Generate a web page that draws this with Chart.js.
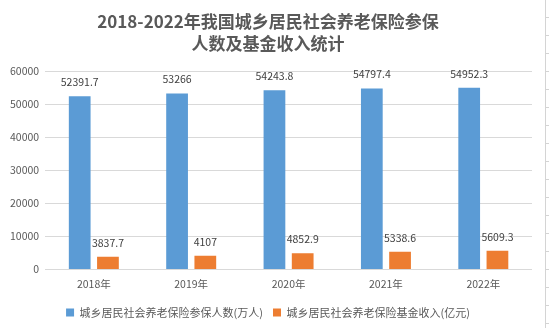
<!DOCTYPE html>
<html lang="zh">
<head>
    <meta charset="UTF-8">
    <title>2018-2022年我国城乡居民社会养老保险参保人数及基金收入统计</title>
    <script src="https://cdn.jsdelivr.net/npm/chart.js@4.4.0/dist/chart.umd.min.js"></script>
    <style>
        html, body {
            margin: 0;
            padding: 0;
            background: #fff;
            width: 549px;
            height: 328px;
            overflow: hidden;
        }
        #wrap {
            position: absolute;
            left: 0;
            top: 0;
            width: 534px;
            height: 328px;
        }
        /* spreadsheet edge visible at the right of the screenshot */
        #sheetEdge {
            position: absolute;
            left: 545px;
            top: 0;
            width: 4px;
            height: 328px;
            border-left: 1px solid #d4d4d4;
            background: repeating-linear-gradient(to bottom, transparent 0, transparent 17px, #d4d4d4 17px, #d4d4d4 18px);
        }
    </style>
</head>
<body>
    <div id="wrap"><canvas id="chart"></canvas></div>
    <div id="sheetEdge"></div>

    <script>
        // values
        const years = ['2018年', '2019年', '2020年', '2021年', '2022年'];
        const insured = [52391.7, 53266, 54243.8, 54797.4, 54952.3];     // 万人
        const fundIncome = [3837.7, 4107, 4852.9, 5338.6, 5609.3];       // 亿元
        const seriesNames = ['城乡居民社会养老保险参保人数(万人)', '城乡居民社会养老保险基金收入(亿元)'];
        const titleLines = ['2018-2022年我国城乡居民社会养老保险参保', '人数及基金收入统计'];

        const fontFamily = '"Noto Sans CJK SC", "Noto Sans", sans-serif';
        const textGrey = '#595959';

        // draw value labels above each bar
        const valueLabels = {
            id: 'valueLabels',
            afterDatasetsDraw(chart) {
                const ctx = chart.ctx;
                ctx.save();
                ctx.font = '10.5px ' + fontFamily;
                ctx.fillStyle = '#404040';
                ctx.textAlign = 'center';
                ctx.textBaseline = 'middle';
                chart.data.datasets.forEach((ds, i) => {
                    chart.getDatasetMeta(i).data.forEach((bar, j) => {
                        ctx.fillText(String(ds.data[j]), bar.x, bar.y - 14);
                    });
                });
                ctx.restore();
            }
        };

        Chart.defaults.font.family = fontFamily;
        Chart.defaults.color = textGrey;

        new Chart(document.getElementById('chart'), {
            type: 'bar',
            data: {
                labels: years,
                datasets: [
                    {
                        label: seriesNames[0],
                        data: insured,
                        backgroundColor: '#5b9bd5'
                    },
                    {
                        label: seriesNames[1],
                        data: fundIncome,
                        backgroundColor: '#ed7d31'
                    }
                ]
            },
            options: {
                responsive: true,
                maintainAspectRatio: false,
                animation: false,
                datasets: {
                    bar: {
                        categoryPercentage: 0.58,
                        barPercentage: 0.77
                    }
                },
                layout: {
                    padding: { left: 4, right: 2, top: 6, bottom: 0 }
                },
                scales: {
                    x: {
                        grid: { display: false },
                        border: { display: false },
                        ticks: {
                            color: textGrey,
                            font: { size: 10.5 },
                            padding: 0
                        },
                        // leave some room between the year labels and the legend
                        afterFit: scale => { scale.height += 7; }
                    },
                    y: {
                        min: 0,
                        max: 60000,
                        ticks: {
                            stepSize: 10000,
                            color: textGrey,
                            font: { size: 10.5 },
                            padding: 6,
                            callback: v => String(v)
                        },
                        grid: {
                            color: '#d9d9d9',
                            drawTicks: false
                        },
                        border: { display: false }
                    }
                },
                plugins: {
                    title: {
                        display: true,
                        text: titleLines,
                        color: textGrey,
                        font: { size: 17, weight: 'bold', lineHeight: 1.3 },
                        padding: { top: 4, bottom: 17 }
                    },
                    legend: {
                        position: 'bottom',
                        labels: {
                            boxWidth: 8,
                            boxHeight: 8,
                            color: textGrey,
                            font: { size: 11 },
                            padding: 10
                        }
                    },
                    tooltip: { enabled: false }
                }
            },
            plugins: [valueLabels]
        });
    </script>
</body>
</html>
